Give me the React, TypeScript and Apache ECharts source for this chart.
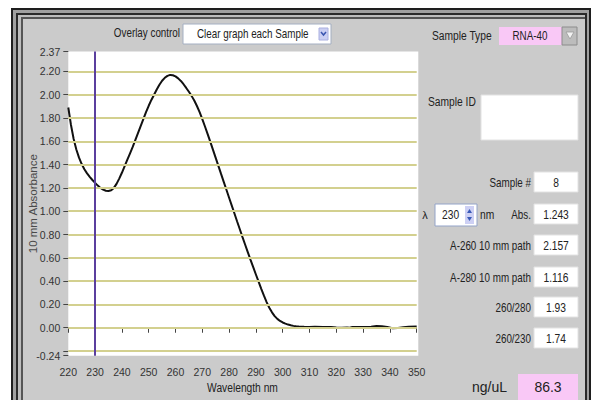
import { useEffect, useRef } from "react";
import * as echarts from "echarts";

// Absorbance spectrum (10 mm path) of an RNA-40 sample
const wavelengths = [
  220, 221, 222, 223, 224, 225, 226, 227, 228, 229, 230, 231, 232, 233, 234, 235,
  236, 237, 238, 239, 240, 241, 242, 243, 244, 245, 246, 247, 248, 249, 250, 251,
  252, 253, 254, 255, 256, 257, 258, 259, 260, 261, 262, 263, 264, 265, 266, 267,
  268, 269, 270, 271, 272, 273, 274, 275, 276, 277, 278, 279, 280, 281, 282, 283,
  284, 285, 286, 287, 288, 289, 290, 291, 292, 293, 294, 295, 296, 297, 298, 299,
  300, 301, 302, 303, 304, 305, 306, 308, 310, 312, 315, 318, 320, 322, 324, 325,
  326, 328, 330, 333, 335, 337, 339, 341, 343, 345, 347, 350,
];
const absorbance = [
  1.89, 1.74, 1.62, 1.53, 1.46, 1.405, 1.36, 1.325, 1.295, 1.268, 1.243, 1.22, 1.2, 1.185, 1.176, 1.173,
  1.18, 1.2, 1.235, 1.28, 1.33, 1.385, 1.44, 1.495, 1.55, 1.61, 1.67, 1.73, 1.79, 1.85, 1.905, 1.955,
  2.0, 2.045, 2.085, 2.12, 2.145, 2.162, 2.17, 2.167, 2.157, 2.14, 2.118, 2.09, 2.058, 2.025, 1.99, 1.95,
  1.903, 1.85, 1.79, 1.727, 1.662, 1.595, 1.527, 1.458, 1.389, 1.32, 1.252, 1.184, 1.116, 1.048, 0.98, 0.912,
  0.845, 0.778, 0.712, 0.647, 0.583, 0.52, 0.457, 0.395, 0.334, 0.275, 0.22, 0.172, 0.132, 0.1, 0.076, 0.058,
  0.045, 0.035, 0.027, 0.021, 0.016, 0.012, 0.01, 0.008, 0.007, 0.008, 0.007, 0.006, 0.002, 0.0, 0.003, 0.0,
  0.006, 0.007, 0.007, 0.008, 0.014, 0.012, 0.006, -0.004, -0.003, 0.004, 0.008, 0.01,
];

const yLabelValues = [-0.24, 0, 0.2, 0.4, 0.6, 0.8, 1.0, 1.2, 1.4, 1.6, 1.8, 2.0, 2.2, 2.37];
const yTickValues = [-0.24, -0.2, 0, 0.2, 0.4, 0.6, 0.8, 1.0, 1.2, 1.4, 1.6, 1.8, 2.0, 2.2, 2.37];
const gridLevels = [-0.2, 0, 0.2, 0.4, 0.6, 0.8, 1.0, 1.2, 1.4, 1.6, 1.8, 2.0, 2.2];
const cursorWavelength = 230;

const readoutLabels = ["Sample #", "Abs.", "A-260 10 mm path", "A-280 10 mm path", "260/280", "260/230"];
const readoutValues = ["8", "1.243", "2.157", "1.116", "1.93", "1.74"];
const concentration = "86.3";
const sampleType = "RNA-40";
const overlayMode = "Clear graph each Sample";

const SANS = "'Liberation Sans', Arial, sans-serif";
// narrow lettering is drawn with Liberation Sans squeezed horizontally
const NARROW_SCALE = 0.82;

const PLOT = { left: 68.3, top: 51.6, width: 348.4, height: 304.1 };

function text(x: number, y: number, s: string, opts: any = {}) {
  return {
    type: "text",
    z: -1,
    x,
    y,
    scaleX: opts.wide ? 1 : NARROW_SCALE,
    style: {
      text: s,
      fill: opts.fill || "#222",
      fontSize: opts.size || 11.5,
      fontFamily: SANS,
      align: opts.align || "left",
      verticalAlign: "middle",
    },
  };
}

function rect(x: number, y: number, w: number, h: number, fill: string, stroke?: string) {
  return {
    type: "rect",
    z: -1,
    shape: { x, y, width: w, height: h },
    style: { fill, stroke: stroke || null, lineWidth: stroke ? 1 : 0 },
  };
}

export default function App() {
  const ref = useRef<HTMLDivElement>(null);

  useEffect(() => {
    if (!ref.current) return;
    const chart = echarts.init(ref.current, undefined, { renderer: "svg" });

    const rowTops = [172, 204, 235, 267, 297, 328];
    const panel: any[] = [
      // window frame
      rect(11, 8, 580, 400, "#1e1e1e"),
      rect(13, 10, 576, 400, "#a0a0a0"),
      rect(16, 13, 571, 400, "#2a2a2a"),
      rect(18, 15, 567, 400, "#bdbdbd"),
      rect(21, 17, 564, 400, "#555555"),
      rect(23, 19, 562, 400, "#cbcbcb"),
      // plot background
      rect(PLOT.left, PLOT.top, 350, PLOT.height, "#ffffff"),
      // overlay control
      text(180, 33, "Overlay control", { align: "right", size: 12 }),
      rect(183, 24, 148, 20, "#ffffff", "#a4afc2"),
      text(197, 34, overlayMode, { size: 12 }),
      rect(319, 28, 9, 12, "#cbcff3", "#aab0e0"),
      {
        type: "polyline",
        z: -1,
        shape: { points: [[321, 32], [323.5, 35], [326, 32]] },
        style: { stroke: "#3a55b0", lineWidth: 1.5, fill: null },
      },
      // sample type
      text(432, 36, "Sample Type", { size: 12.5 }),
      rect(499, 27, 63, 18, "#f9c8f6"),
      text(530, 36, sampleType, { align: "center", size: 12 }),
      rect(562, 27, 15, 18, "#bcbcbc", "#8c8c8c"),
      {
        type: "polygon",
        z: -1,
        shape: { points: [[566, 32], [574, 32], [570, 39]] },
        style: { fill: "#f2f2f2", stroke: "#9a9a9a", lineWidth: 0.8 },
      },
      // sample id
      text(428, 102, "Sample ID", { size: 12.5 }),
      rect(481, 95, 97, 45, "#ffffff", "#e2e2e2"),
      // wavelength selector
      text(425, 215, "λ", { size: 11, align: "center", wide: true }),
      rect(435, 204, 42, 22, "#ffffff", "#93a3c8"),
      text(442, 215, String(cursorWavelength), { size: 12.5 }),
      rect(465, 206, 9, 18, "#cdd0f4"),
      {
        type: "polygon",
        z: -1,
        shape: { points: [[467, 213], [472, 213], [469.5, 209]] },
        style: { fill: "#3a5ab8" },
      },
      {
        type: "polygon",
        z: -1,
        shape: { points: [[467, 217], [472, 217], [469.5, 221]] },
        style: { fill: "#3a5ab8" },
      },
      text(480, 215, "nm", { size: 12.5 }),
      // concentration
      text(507, 387, "ng/uL", { size: 14, align: "right", wide: true }),
      rect(518, 374, 60, 30, "#f9c8f6"),
      text(548, 387, concentration, { size: 14, align: "center", wide: true }),
      // axis titles
      {
        type: "text",
        z: -1,
        x: 32.5,
        y: PLOT.top + PLOT.height / 2,
        rotation: Math.PI / 2,
        style: {
          text: "10 mm Absorbance",
          fill: "#4a4a4a",
          fontSize: 11.5,
          fontFamily: SANS,
          align: "center",
          verticalAlign: "middle",
        },
      },
      text(PLOT.left + PLOT.width / 2, 388, "Wavelength nm", { size: 12.5, align: "center" }),
    ];

    readoutLabels.forEach((label, i) => {
      const top = rowTops[i];
      panel.push(text(531, top + 10.5, label, { align: "right", size: 12 }));
      panel.push(rect(534, top, 44, 20, "#ffffff", "#e2e2e2"));
      panel.push(text(556, top + 10.5, readoutValues[i], { align: "center", size: 12.5 }));
    });

    chart.setOption({
      animation: false,
      backgroundColor: "#ffffff",
      grid: { left: PLOT.left, top: PLOT.top, width: PLOT.width, height: PLOT.height, show: false },
      graphic: { elements: panel },
      xAxis: {
        type: "value",
        min: 220,
        max: 350,
        interval: 10,
        axisLine: { show: false },
        axisTick: { show: true, length: 5, lineStyle: { color: "#444" } },
        axisLabel: { margin: 11, fontSize: 10.5, fontFamily: SANS, color: "#333" },
        splitLine: { show: false },
      },
      yAxis: {
        type: "value",
        min: -0.24,
        max: 2.37,
        axisLine: { show: false },
        axisTick: { show: true, length: 5, customValues: yTickValues, lineStyle: { color: "#444" } },
        axisLabel: {
          customValues: yLabelValues,
          formatter: (v: number) => v.toFixed(2),
          margin: 8,
          fontSize: 10.5,
          fontFamily: SANS,
          color: "#333",
        },
        splitLine: { show: false },
      },
      series: [
        {
          type: "line",
          z: 1,
          data: [],
          markLine: {
            silent: true,
            symbol: "none",
            label: { show: false },
            lineStyle: { color: "#d3d08f", width: 2, type: "solid" },
            data: gridLevels.map((v) => ({ yAxis: v })),
          },
        },
        {
          type: "line",
          z: 3,
          data: wavelengths.map((w, i) => [w, absorbance[i]]),
          showSymbol: false,
          smooth: false,
          lineStyle: { color: "#111", width: 2 },
          markLine: {
            silent: true,
            symbol: "none",
            label: { show: false },
            lineStyle: { color: "#5b3f9e", width: 2, type: "solid" },
            data: [{ xAxis: cursorWavelength }],
          },
        },
      ],
    });

    return () => chart.dispose();
  }, []);

  return (
    <div
      ref={ref}
      style={{ position: "fixed", left: 0, top: 0, width: 592, height: 400 }}
    />
  );
}
